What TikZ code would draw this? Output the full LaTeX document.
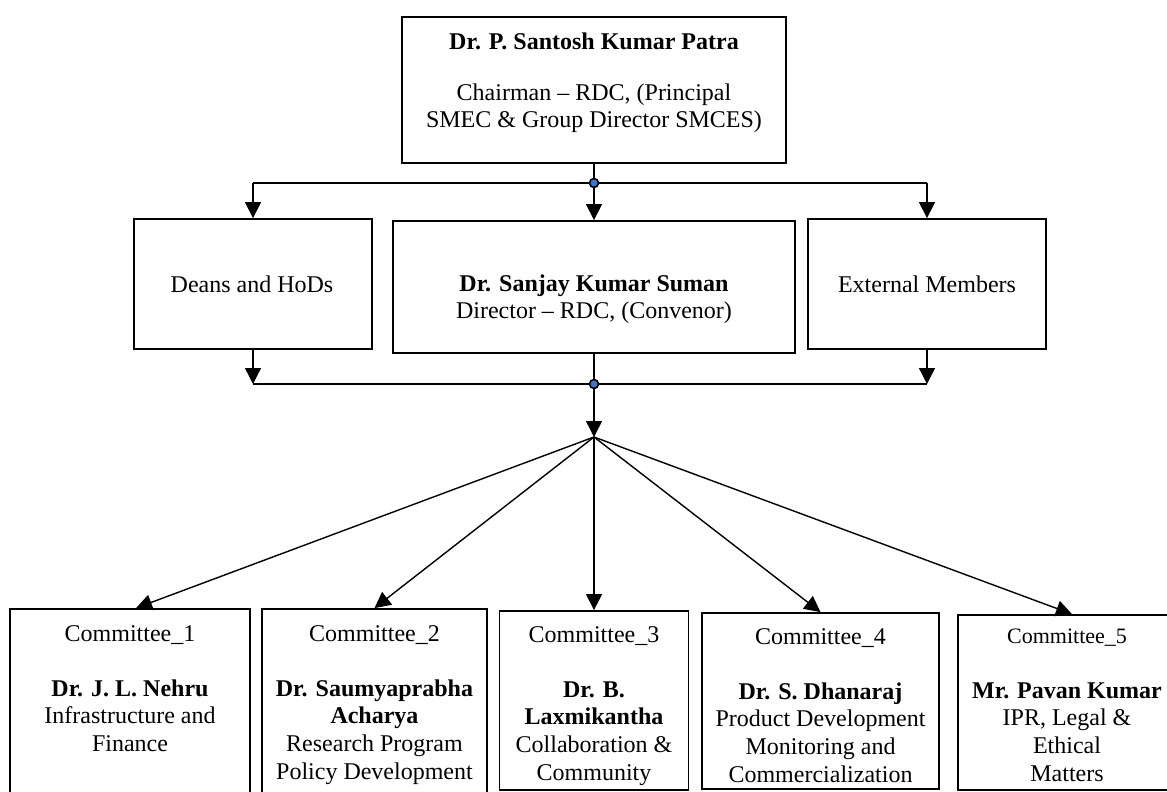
\documentclass[tikz,border=0pt]{standalone}
\usepackage{fontspec}
\setmainfont{Liberation Serif}
\usetikzlibrary{arrows.meta}
\definecolor{dotblue}{RGB}{68,114,196}
\begin{document}
\begin{tikzpicture}[x=1pt,y=-1pt,
  box/.style={draw=black,line width=1.8pt,inner sep=0pt,fill=white},
  txt/.style={inner sep=0pt,anchor=north,align=center,font=\fontsize{24}{27.6}\selectfont},
  conn/.style={line width=1.4pt,draw=black},
  arr/.style={conn,-{Triangle[width=16pt,length=16pt]}},
  jdot/.style={fill=dotblue,draw=black,line width=1.6pt}
]
\useasboundingbox (0,0) rectangle (1167,792);
% boxes
\node[box,minimum width=384pt,minimum height=146pt] (P) at (594,90) {};
\node[box,minimum width=238pt,minimum height=130pt] (D) at (253,284) {};
\node[box,minimum width=402pt,minimum height=132pt] (S) at (594,287) {};
\node[box,minimum width=238pt,minimum height=130pt] (E) at (927,284) {};
\node[box,minimum width=240pt,minimum height=186pt] (c1) at (130,702) {};
\node[box,minimum width=225pt,minimum height=186pt] (c2) at (374.5,702) {};
\node[box,minimum width=189pt,minimum height=179pt] (c3) at (594,700.5) {};
\node[box,minimum width=237pt,minimum height=176pt] (c4) at (820.5,701) {};
\node[box,minimum width=218pt,minimum height=175pt] (c5) at (1067,702.5) {};
% texts
\node[txt] (Pt) at (594,29.7) {\strut\textbf{Dr. P. Santosh Kumar Patra}\\[23.4pt]Chairman -- RDC, (Principal\\SMEC \& Group Director SMCES)};
\node[txt] (Dt) at (252,272.7) {\strut Deans and HoDs};
\node[txt] (St) at (594,271.7) {\strut\textbf{Dr. Sanjay Kumar Suman}\\Director -- RDC, (Convenor)};
\node[txt] (Et) at (927,272.7) {\strut External Members};
\node[txt] (c1t) at (130,621.7) {\strut Committee\_1\\[27.4pt]\textbf{Dr. J. L. Nehru}\\Infrastructure and\\Finance};
\node[txt] (c2t) at (374.5,621.7) {\strut Committee\_2\\[27.4pt]\textbf{Dr. Saumyaprabha}\\\textbf{Acharya}\\Research Program\\Policy Development};
\node[txt] (c3t) at (594,622.7) {\strut Committee\_3\\[27.4pt]\textbf{Dr. B.}\\\textbf{Laxmikantha}\\Collaboration \&\\Community};
\node[txt] (c4t) at (820.5,624.7) {\strut Committee\_4\\[27.4pt]\textbf{Dr. S. Dhanaraj}\\Product Development\\Monitoring and\\Commercialization};
\node[txt] (c5t) at (1067,623.7) {\strut{\fontsize{22}{25.3}\selectfont Committee\_5}\\[27.4pt]\textbf{Mr. Pavan Kumar}\\IPR, Legal \&\\Ethical\\Matters};
% junctions
\coordinate (j1) at (594,183);
\coordinate (j2) at (594,384);
\coordinate (f) at (594,437);
% top level connectors
\draw[conn] (P.south) -- (j1);
\draw[conn] (D.north |- j1) -- (E.north |- j1);
\draw[arr] (D.north |- j1) -- (D.north);
\draw[arr] (j1) -- (S.north);
\draw[arr] (E.north |- j1) -- (E.north);
% middle level connectors
\draw[arr] (D.south) -- (D.south |- j2);
\draw[arr] (E.south) -- (E.south |- j2);
\draw[conn] (D.south |- j2) -- (E.south |- j2);
\draw[conn] (S.south) -- (j2);
\draw[arr] (j2) -- (f);
% fan
\draw[arr] (f) -- ([xshift=6pt]c1.north);
\draw[arr] (f) -- (c2.north);
\draw[arr] (f) -- (c3.north);
\draw[arr] (f) -- (c4.north);
\draw[arr] (f) -- ([xshift=5pt]c5.north);
% dots
\path[jdot] (j1) circle (4.5pt);
\path[jdot] (j2) circle (4.5pt);
\end{tikzpicture}
\end{document}
